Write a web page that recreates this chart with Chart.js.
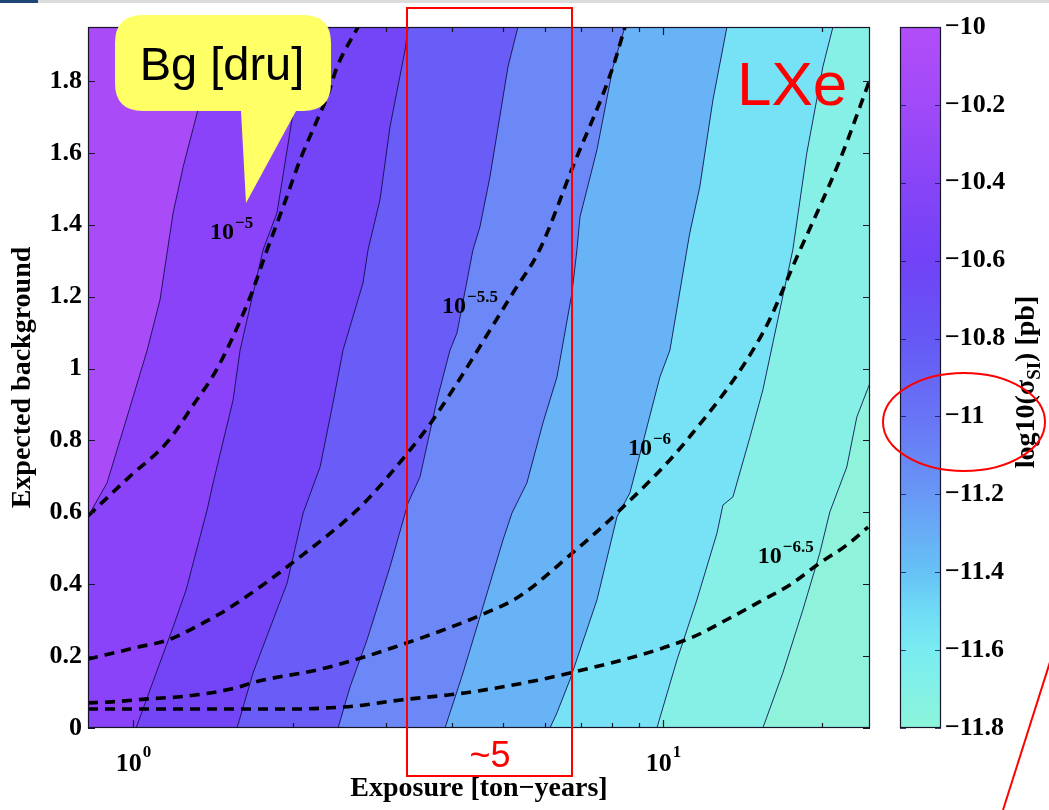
<!DOCTYPE html>
<html>
<head>
<meta charset="utf-8">
<title>Sensitivity vs exposure and expected background</title>
<script src="https://cdn.jsdelivr.net/npm/chart.js@4.4.1/dist/chart.umd.min.js"></script>
<style>
  html, body { margin: 0; padding: 0; background: #ffffff; }
  #stage { position: relative; width: 1049px; height: 810px; overflow: hidden; }
  #stage canvas { position: absolute; left: 0; top: 0; }
</style>
</head>
<body>
<div id="stage">
  <canvas id="plot" width="1049" height="810"></canvas>
  <canvas id="cbar" width="1049" height="810"></canvas>
</div>
<script>
// ---------- axes ----------
const exposureLimits = [0.822, 24.6];      // ton-years, log axis
const backgroundLimits = [0, 1.95];        // expected background events
const yTicks = [0, 0.2, 0.4, 0.6, 0.8, 1, 1.2, 1.4, 1.6, 1.8];
const yTickLabels = ['0', '0.2', '0.4', '0.6', '0.8', '1', '1.2', '1.4', '1.6', '1.8'];
const xTicks = [1, 2, 3, 4, 5, 6, 7, 8, 9, 10, 20];
const xDecades = [1, 10];
const xDecadeExponents = ['0', '1'];

// ---------- colour scale: log10(sigma_SI) [pb] ----------
const sigmaTicks = [-10, -10.2, -10.4, -10.6, -10.8, -11, -11.2, -11.4, -11.6, -11.8];
const sigmaTickLabels = ['\u221210', '\u221210.2', '\u221210.4', '\u221210.6', '\u221210.8',
                         '\u221211', '\u221211.2', '\u221211.4', '\u221211.6', '\u221211.8'];

// ---------- iso-sensitivity contours, [exposure, background] ----------
const contourA = [[0.822,0.588],[0.893,0.682],[0.974,0.865],[1.063,1.051],[1.124,1.191],[1.190,1.433],[1.243,1.561],[1.321,1.711],[1.447,1.950]];
const contourB = [[1.013,0],[1.081,0.114],[1.190,0.281],[1.259,0.384],[1.379,0.606],[1.416,0.682],[1.544,0.912],[1.592,1.051],[1.759,1.330],[1.869,1.433],[2.004,1.711],[2.130,1.950]];
const contourC = [[1.571,0],[1.684,0.153],[1.798,0.264],[1.953,0.403],[2.094,0.598],[2.254,0.726],[2.384,0.904],[2.490,1.051],[2.716,1.238],[2.776,1.330],[2.924,1.469],[3.054,1.672],[3.261,1.886],[3.304,1.950]];
const contourD = [[2.437,0],[2.567,0.114],[2.764,0.245],[3.054,0.448],[3.304,0.626],[3.479,0.698],[3.746,0.912],[3.964,1.051],[4.087,1.099],[4.380,1.330],[4.515,1.394],[4.716,1.533],[5.100,1.839],[5.326,1.950]];
const contourE = [[3.879,0],[4.195,0.153],[4.575,0.337],[4.991,0.523],[5.190,0.598],[5.538,0.682],[5.936,0.848],[6.310,0.976],[6.735,1.210],[6.883,1.330],[6.974,1.421],[7.508,1.608],[8.051,1.839],[8.478,1.950]];
const contourF = [[6.122,0],[6.310,0.042],[6.676,0.134],[7.508,0.356],[8.190,0.587],[8.664,0.654],[9.870,0.976],[10.31,1.051],[11.10,1.330],[11.24,1.377],[11.74,1.505],[12.43,1.747],[13.21,1.950]];
const contourG = [[9.743,0],[10.63,0.189],[11.59,0.356],[12.65,0.542],[12.98,0.620],[13.56,0.643],[14.60,0.809],[15.44,0.940],[16.63,1.163],[17.59,1.330],[18.69,1.599],[20.04,1.839],[20.94,1.950]];
const contourH = [[15.44,0],[16.84,0.153],[18.37,0.328],[19.78,0.487],[20.66,0.601],[22.24,0.726],[23.23,0.865],[24.60,0.960]];

// ---------- background-rate curves (Bg in dru), [exposure, background] ----------
const bgRate1e5   = [[0.822,0.590],[0.983,0.698],[1.164,0.798],[1.298,0.898],[1.440,0.999],[1.663,1.199],[1.790,1.330],[1.919,1.449],[2.066,1.580],[2.225,1.691],[2.323,1.755],[2.427,1.839],[2.658,1.950]];
const bgRate1e55  = [[0.822,0.192],[1.022,0.225],[1.164,0.245],[1.367,0.295],[1.531,0.337],[2.066,0.476],[2.705,0.620],[3.330,0.773],[3.680,0.857],[5.210,1.210],[5.850,1.330],[6.760,1.561],[8.050,1.839],[8.480,1.950]];
const bgRate1e6   = [[0.822,0.070],[0.897,0.072],[1.067,0.081],[1.270,0.089],[1.557,0.111],[1.699,0.128],[2.262,0.164],[2.739,0.198],[3.201,0.231],[3.761,0.267],[4.531,0.314],[5.370,0.367],[6.676,0.481],[8.190,0.598],[11.10,0.801],[15.44,1.099],[17.98,1.316],[21.58,1.580],[24.58,1.803]];
const bgRate1e65  = [[0.822,0.053],[1.124,0.053],[1.599,0.053],[2.066,0.053],[2.330,0.056],[2.620,0.061],[3.200,0.078],[3.930,0.092],[4.480,0.103],[6.680,0.153],[11.26,0.250],[13.38,0.306],[15.44,0.356],[17.36,0.398],[19.78,0.459],[22.24,0.509],[24.40,0.559]];
const bgRateExponents = ['\u22125', '\u22125.5', '\u22126', '\u22126.5'];

// ---------- drawing setup ----------
const contourLines = [contourA, contourB, contourC, contourD, contourE, contourF, contourG, contourH];
const bgCurves = [bgRate1e5, bgRate1e55, bgRate1e6, bgRate1e65];
const bandColors = ['#a94bf7', '#8a43f8', '#7444f7', '#6a5cf6', '#6c88f6', '#67b3f6', '#77e2f6', '#86f0e6', '#8ef3da'];
const colourStops = [[-10,'#b24df8'],[-10.2,'#a04af8'],[-10.4,'#8745f7'],[-10.6,'#7142f6'],[-10.8,'#6558f5'],
                     [-11,'#6874f5'],[-11.2,'#6898f5'],[-11.4,'#66c2f5'],[-11.5,'#70dbf5'],[-11.6,'#79ecf1'],[-11.8,'#8cf5da']];
const bgLabelAnchors = [[1.397,1.36],[3.83,1.154],[8.59,0.759],[15.11,0.459]];

const SERIF = "'Liberation Serif', 'Times New Roman', serif";
const SANS = "'Liberation Sans', Arial, sans-serif";
const toXY = arr => arr.map(([x, y]) => ({x, y}));

// filled bands between neighbouring contours (painted left to right)
const bandFill = {
  id: 'bandFill',
  beforeDatasetsDraw(chart) {
    const {ctx, chartArea: a, scales: {x, y}} = chart;
    ctx.save();
    ctx.beginPath();
    ctx.rect(a.left, a.top, a.right - a.left, a.bottom - a.top);
    ctx.clip();
    ctx.fillStyle = bandColors[0];
    ctx.fillRect(a.left, a.top, a.right - a.left, a.bottom - a.top);
    contourLines.forEach((line, i) => {
      ctx.beginPath();
      line.forEach(([vx, vy], j) => {
        const px = x.getPixelForValue(vx), py = y.getPixelForValue(vy);
        if (j === 0) ctx.moveTo(px, py); else ctx.lineTo(px, py);
      });
      ctx.lineTo(a.right + 3, a.top - 3);
      ctx.lineTo(a.right + 3, a.bottom + 3);
      ctx.lineTo(a.left - 3, a.bottom + 3);
      ctx.closePath();
      ctx.fillStyle = bandColors[i + 1];
      ctx.fill();
    });
    ctx.restore();
  }
};

// box, inward ticks, decade labels and curve labels
const frame = {
  id: 'frame',
  afterDatasetsDraw(chart) {
    const {ctx, chartArea: a, scales: {x, y}} = chart;
    ctx.save();
    ctx.strokeStyle = '#14142a';
    ctx.lineWidth = 1.2;
    ctx.strokeRect(a.left + 0.5, a.top + 0.5, a.right - a.left - 1, a.bottom - a.top - 1);
    ctx.beginPath();
    yTicks.forEach(v => {
      const py = Math.round(y.getPixelForValue(v)) + 0.5;
      ctx.moveTo(a.left, py); ctx.lineTo(a.left + 7, py);
      ctx.moveTo(a.right, py); ctx.lineTo(a.right - 7, py);
    });
    xTicks.forEach(v => {
      const px = Math.round(x.getPixelForValue(v)) + 0.5;
      const len = xDecades.includes(v) ? 8 : 5;
      ctx.moveTo(px, a.bottom); ctx.lineTo(px, a.bottom - len);
      ctx.moveTo(px, a.top); ctx.lineTo(px, a.top + len);
    });
    ctx.stroke();

    // decade labels 10^n
    ctx.fillStyle = '#000';
    ctx.textBaseline = 'alphabetic';
    xDecades.forEach((v, i) => {
      const px = x.getPixelForValue(v);
      ctx.font = `bold 26px ${SERIF}`;
      const wBase = ctx.measureText('10').width;
      ctx.font = `bold 17px ${SERIF}`;
      const wExp = ctx.measureText(xDecadeExponents[i]).width;
      const left = px - (wBase + wExp) / 2;
      ctx.font = `bold 26px ${SERIF}`;
      ctx.textAlign = 'left';
      ctx.fillText('10', left, 771);
      ctx.font = `bold 17px ${SERIF}`;
      ctx.fillText(xDecadeExponents[i], left + wBase + 1, 757);
    });

    // labels of the background-rate curves
    bgLabelAnchors.forEach(([vx, vy], i) => {
      const px = x.getPixelForValue(vx), py = y.getPixelForValue(vy);
      ctx.textAlign = 'left';
      ctx.font = `bold 24px ${SERIF}`;
      ctx.fillText('10', px, py);
      const w = ctx.measureText('10').width;
      ctx.font = `bold 17px ${SERIF}`;
      ctx.fillText(bgRateExponents[i], px + w + 1, py - 11);
    });
    ctx.restore();
  }
};

const datasets = [];
bgCurves.forEach(c => datasets.push({
  data: toXY(c), showLine: true, pointRadius: 0, borderColor: '#000000',
  borderWidth: 3.6, borderDash: [10, 7], borderCapStyle: 'butt', fill: false,
  cubicInterpolationMode: 'monotone'
}));
contourLines.forEach(c => datasets.push({
  data: toXY(c), showLine: true, pointRadius: 0, borderColor: 'rgba(12,12,70,0.85)',
  borderWidth: 1, fill: false
}));

new Chart(document.getElementById('plot'), {
  type: 'scatter',
  data: { datasets },
  options: {
    responsive: false,
    animation: false,
    devicePixelRatio: 1,
    layout: { padding: { left: 0, top: 27, right: 179, bottom: 0 } },
    plugins: { legend: { display: false }, tooltip: { enabled: false } },
    events: [],
    scales: {
      x: {
        type: 'logarithmic',
        min: exposureLimits[0], max: exposureLimits[1],
        grid: { display: false, drawTicks: false },
        border: { display: false },
        ticks: { display: false },
        afterFit: s => { s.height = 82; },
        title: { display: true, text: 'Exposure [ton\u2212years]', color: '#000',
                 font: { family: SERIF, size: 28, weight: 'bold' }, padding: { top: 0, bottom: 4 } }
      },
      y: {
        type: 'linear',
        min: backgroundLimits[0], max: backgroundLimits[1],
        afterBuildTicks: s => { s.ticks = yTicks.map(v => ({ value: v })); },
        grid: { display: false, drawTicks: false },
        border: { display: false },
        ticks: { color: '#000', padding: 6, font: { family: SERIF, size: 26, weight: 'bold' },
                 callback: (v, i) => yTickLabels[i] },
        afterFit: s => { s.width = 88; },
        title: { display: true, text: 'Expected background', color: '#000',
                 font: { family: SERIF, size: 28, weight: 'bold' }, padding: { top: 6, bottom: 0 } }
      }
    }
  },
  plugins: [bandFill, frame]
});

// ---------- colour bar ----------
const cbarFrame = {
  id: 'cbarFrame',
  afterDatasetsDraw(chart) {
    const {ctx, chartArea: a, scales: {y}} = chart;
    ctx.save();
    ctx.strokeStyle = '#14142a';
    ctx.lineWidth = 1.2;
    ctx.strokeRect(a.left + 0.5, a.top + 0.5, a.right - a.left - 1, a.bottom - a.top - 1);
    ctx.beginPath();
    sigmaTicks.forEach(v => {
      const py = Math.round(y.getPixelForValue(v)) + 0.5;
      ctx.moveTo(a.left, py); ctx.lineTo(a.left + 6, py);
      ctx.moveTo(a.right, py); ctx.lineTo(a.right - 6, py);
    });
    ctx.strokeStyle = 'rgba(20,20,80,0.8)';
    ctx.stroke();

    // rotated title: log10(sigma_SI) [pb]
    ctx.translate(1027, 382);
    ctx.rotate(-Math.PI / 2);
    ctx.fillStyle = '#000';
    ctx.textBaseline = 'middle';
    ctx.textAlign = 'left';
    const big = `bold 28px ${SERIF}`, small = `bold 19px ${SERIF}`;
    const parts = [['log10(\u03c3', big, 0], ['SI', small, 8], [') [pb]', big, 0]];
    let total = 0;
    parts.forEach(p => { ctx.font = p[1]; total += ctx.measureText(p[0]).width; });
    let cx = -total / 2;
    parts.forEach(p => { ctx.font = p[1]; ctx.fillText(p[0], cx, p[2]); cx += ctx.measureText(p[0]).width; });
    ctx.restore();
  }
};

// callouts drawn over the whole figure
const callouts = {
  id: 'callouts',
  afterDraw(chart) {
    const ctx = chart.ctx;
    ctx.save();
    // top strip of the page
    ctx.fillStyle = '#dcdcdc';
    ctx.fillRect(0, 0, 1049, 3);
    ctx.fillStyle = '#1f4576';
    ctx.fillRect(0, 0, 38, 3);

    // speech bubble
    const l = 115, t = 15, r = 331, b = 111, rad = 28;
    ctx.beginPath();
    ctx.moveTo(l + rad, t);
    ctx.lineTo(r - rad, t);
    ctx.quadraticCurveTo(r, t, r, t + rad);
    ctx.lineTo(r, b - rad);
    ctx.quadraticCurveTo(r, b, r - rad, b);
    ctx.lineTo(296, b);
    ctx.lineTo(246, 203);
    ctx.lineTo(241, b);
    ctx.lineTo(l + rad, b);
    ctx.quadraticCurveTo(l, b, l, b - rad);
    ctx.lineTo(l, t + rad);
    ctx.quadraticCurveTo(l, t, l + rad, t);
    ctx.closePath();
    ctx.fillStyle = '#ffff66';
    ctx.fill();
    ctx.fillStyle = '#000';
    ctx.font = `47px ${SANS}`;
    ctx.textAlign = 'center';
    ctx.textBaseline = 'alphabetic';
    ctx.fillText('Bg [dru]', 222, 80);

    // red marks
    ctx.strokeStyle = '#ff0000';
    ctx.fillStyle = '#ff0000';
    ctx.lineWidth = 2;
    ctx.strokeRect(407, 8, 165, 768);
    ctx.font = `36px ${SANS}`;
    ctx.fillText('~5', 490, 767);
    ctx.textAlign = 'left';
    ctx.font = `62px ${SANS}`;
    ctx.fillText('LXe', 737, 105);
    ctx.beginPath();
    ctx.ellipse(964, 422, 81, 49, 0, 0, Math.PI * 2);
    ctx.stroke();
    ctx.beginPath();
    ctx.moveTo(1050, 662);
    ctx.lineTo(1003, 810);
    ctx.stroke();
    ctx.restore();
  }
};

new Chart(document.getElementById('cbar'), {
  type: 'bar',
  data: {
    labels: [''],
    datasets: [{
      data: [[sigmaTicks[sigmaTicks.length - 1], sigmaTicks[0]]],
      barPercentage: 1,
      categoryPercentage: 1,
      borderWidth: 0,
      backgroundColor: (c) => {
        const ch = c.chart, a = ch.chartArea, ys = ch.scales.y;
        if (!a || !ys) return colourStops[0][1];
        const g = ch.ctx.createLinearGradient(0, a.top, 0, a.bottom);
        colourStops.forEach(([v, col]) => {
          const f = (ys.getPixelForValue(v) - a.top) / (a.bottom - a.top);
          g.addColorStop(Math.min(1, Math.max(0, f)), col);
        });
        return g;
      }
    }]
  },
  options: {
    responsive: false,
    animation: false,
    devicePixelRatio: 1,
    events: [],
    layout: { padding: { left: 900, top: 27, right: 0, bottom: 82 } },
    plugins: { legend: { display: false }, tooltip: { enabled: false } },
    scales: {
      x: { display: false },
      y: {
        position: 'right',
        min: sigmaTicks[sigmaTicks.length - 1], max: sigmaTicks[0],
        afterBuildTicks: s => { s.ticks = sigmaTicks.map(v => ({ value: v })); },
        grid: { display: false, drawTicks: false },
        border: { display: false },
        ticks: { color: '#000', padding: 4, font: { family: SERIF, size: 26, weight: 'bold' },
                 callback: (v, i) => sigmaTickLabels[i] },
        afterFit: s => { s.width = 108; }
      }
    }
  },
  plugins: [cbarFrame, callouts]
});
</script>
</body>
</html>
